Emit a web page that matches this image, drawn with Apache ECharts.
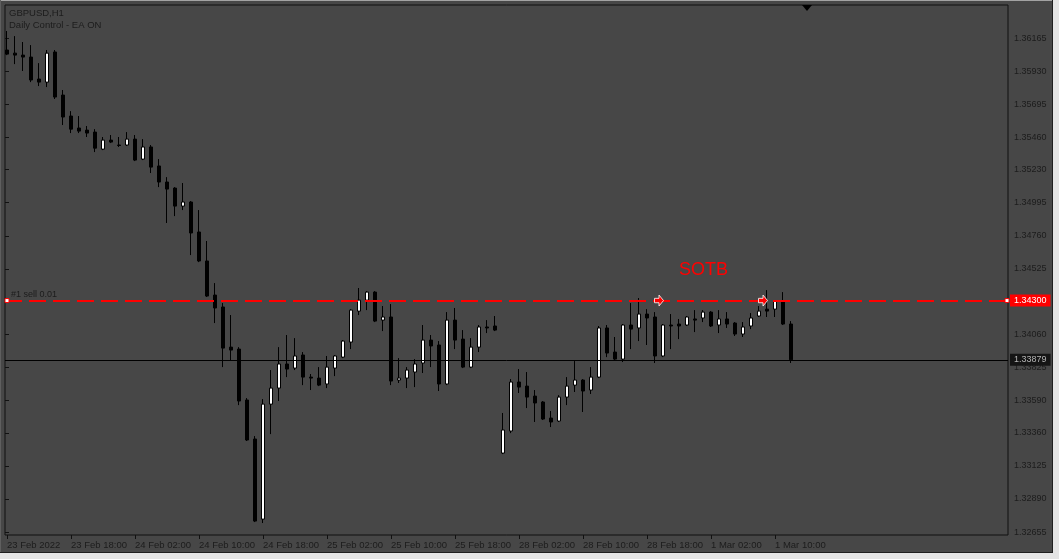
<!DOCTYPE html>
<html>
<head>
<meta charset="utf-8">
<title>GBPUSD,H1</title>
<script src="https://cdn.jsdelivr.net/npm/echarts@6/dist/echarts.min.js"></script>
<style>
html,body{margin:0;padding:0;background:#474747;}
#wrap{position:relative;width:1059px;height:559px;overflow:hidden;background:#474747;}
#chart{position:absolute;left:0;top:0;width:1059px;height:559px;}
.edge{position:absolute;}
</style>
</head>
<body>
<div id="wrap">
  <div id="chart"></div>
  <div class="edge" style="left:0;top:0;width:1059px;height:1px;background:#a3a3a3"></div>
  <div class="edge" style="left:0;top:0;width:1px;height:553px;background:#5f5f5f"></div>
  <div class="edge" style="left:1052px;top:0;width:1px;height:553px;background:#1e1e1e"></div>
  <div class="edge" style="left:1053px;top:0;width:6px;height:559px;background:#e4e4e4"></div>
  <div class="edge" style="left:0;top:552px;width:1053px;height:1px;background:#1e1e1e"></div>
  <div class="edge" style="left:0;top:553px;width:1059px;height:6px;background:#e4e4e4"></div>
</div>
<script>
// hourly bars, MT4 style: 23 Feb 10:00 .. 1 Mar 12:00 (weekend skipped)
const sessions = [['23 Feb',10,23],['24 Feb',0,23],['25 Feb',0,23],['28 Feb',0,23],['1 Mar',0,23],['2 Mar',0,15]];
const tickLabels = ['23 Feb 2022','23 Feb 18:00','24 Feb 02:00','24 Feb 10:00','24 Feb 18:00','25 Feb 02:00',
  '25 Feb 10:00','25 Feb 18:00','28 Feb 02:00','28 Feb 10:00','28 Feb 18:00','1 Mar 02:00','1 Mar 10:00'];
const yTicks = [1.36165,1.35930,1.35695,1.35460,1.35230,1.34995,1.34760,1.34525,1.34290,1.34060,
  1.33825,1.33590,1.33360,1.33125,1.32890,1.32655];

const opens = [
  1.36080,1.36058,1.36044,1.36030,1.35874,1.35852,1.36066,1.35760,1.35611,1.35526,
  1.35511,1.35497,1.35376,1.35440,1.35405,1.35405,1.35447,1.35305,1.35391,1.35256,
  1.35142,1.35099,1.34971,1.35000,1.34787,1.34581,1.34339,1.34254,1.33969,1.33955,
  1.33593,1.33316,1.32747,1.33564,1.33678,1.33849,1.33820,1.33913,1.33756,1.33749,
  1.33707,1.33820,1.33898,1.34005,1.34225,1.34303,1.34360,1.34161,1.34183,1.33735,
  1.33749,1.33792,1.33856,1.34019,1.33984,1.33707,1.34161,1.34026,1.33827,1.33969,
  1.34112,1.34119,
  1.33216,1.33373,1.33721,1.33692,1.33621,1.33579,1.33465,1.33444,
  1.33614,1.33699,1.33735,1.33664,1.33756,1.34105,1.33934,1.33884,1.34126,1.34105,
  1.34204,1.34183,1.33906,1.34126,1.34133,1.34126,1.34169,1.34176,1.34218,1.34126,
  1.34169,1.34140,1.34062,1.34119,1.34190,1.34239,1.34239,1.34296,1.34133];
const closes = [
  1.36051,1.36044,1.36030,1.35867,1.35852,1.36058,1.35746,1.35604,1.35518,1.35504,
  1.35490,1.35383,1.35440,1.35426,1.35402,1.35447,1.35298,1.35391,1.35248,1.35142,
  1.35092,1.34971,1.35000,1.34780,1.34581,1.34332,1.34247,1.33962,1.33948,1.33586,
  1.33309,1.32733,1.33564,1.33678,1.33849,1.33813,1.33906,1.33756,1.33749,1.33699,
  1.33827,1.33906,1.34012,1.34232,1.34303,1.34360,1.34154,1.34183,1.33728,1.33749,
  1.33806,1.33849,1.34019,1.33977,1.33707,1.34161,1.34019,1.33827,1.33969,1.34112,
  1.34105,1.34090,
  1.33380,1.33721,1.33685,1.33614,1.33572,1.33458,1.33437,1.33614,
  1.33692,1.33735,1.33657,1.33756,1.34105,1.33927,1.33884,1.34126,1.34097,1.34204,
  1.34176,1.33906,1.34126,1.34119,1.34119,1.34183,1.34161,1.34218,1.34119,1.34169,
  1.34133,1.34062,1.34112,1.34176,1.34225,1.34225,1.34296,1.34133,1.33879];
const lows = [
  1.36044,1.35980,1.35931,1.35852,1.35824,1.35817,1.35732,1.35547,1.35490,1.35490,
  1.35462,1.35355,1.35369,1.35419,1.35391,1.35398,1.35291,1.35298,1.35206,1.35106,
  1.34851,1.34900,1.34943,1.34623,1.34573,1.34325,1.34140,1.33827,1.33877,1.33557,
  1.33302,1.32726,1.32719,1.33351,1.33586,1.33756,1.33806,1.33699,1.33664,1.33692,
  1.33678,1.33763,1.33891,1.33955,1.34197,1.34232,1.34147,1.34083,1.33699,1.33714,
  1.33678,1.33685,1.33785,1.33827,1.33657,1.33699,1.33955,1.33820,1.33820,1.33934,
  1.34069,1.34083,
  1.33209,1.33358,1.33643,1.33536,1.33437,1.33451,1.33401,1.33437,
  1.33557,1.33650,1.33508,1.33636,1.33749,1.33898,1.33877,1.33863,1.33955,1.34012,
  1.33984,1.33856,1.33898,1.33955,1.34026,1.34119,1.34076,1.34147,1.34112,1.34069,
  1.34105,1.34048,1.34041,1.34097,1.34183,1.34183,1.34183,1.34126,1.33856];
const highs = [
  1.36215,1.36179,1.36137,1.36115,1.35987,1.36080,1.36080,1.35796,1.35646,1.35611,
  1.35540,1.35518,1.35462,1.35476,1.35462,1.35497,1.35476,1.35447,1.35405,1.35305,
  1.35177,1.35106,1.35135,1.35007,1.34943,1.34723,1.34424,1.34282,1.34197,1.33969,
  1.33607,1.33337,1.33600,1.33806,1.33969,1.34055,1.34033,1.33934,1.33778,1.33827,
  1.33906,1.33913,1.34019,1.34239,1.34389,1.34367,1.34367,1.34261,1.34275,1.33891,
  1.33827,1.33884,1.34126,1.34055,1.34012,1.34218,1.34247,1.34090,1.34033,1.34126,
  1.34161,1.34190,
  1.33501,1.33742,1.33813,1.33792,1.33664,1.33586,1.33515,1.33628,
  1.33756,1.33870,1.33742,1.33827,1.34119,1.34126,1.34041,1.34133,1.34282,1.34318,
  1.34239,1.34218,1.34133,1.34204,1.34169,1.34190,1.34232,1.34232,1.34225,1.34232,
  1.34218,1.34147,1.34147,1.34211,1.34261,1.34374,1.34303,1.34360,1.34154];

const orderPrice = 1.34300;
const bidPrice = 1.33879;
const sotbPrice = 1.34520;
const arrowBars = [81, 94];
const yMin = 1.32634, yMax = 1.36400;

const categories = [];
sessions.forEach(function (s) {
  for (let h = s[1]; h <= s[2]; h++) categories.push(s[0] + ' ' + (h < 10 ? '0' : '') + h + ':00');
});
const candles = opens.map(function (o, i) { return [o, closes[i], lows[i], highs[i]]; });

const font = 'Liberation Sans, Arial, sans-serif';
const txt = '#1c1c1c';
const arrowPath = 'path://M0,3L5,3L5,0L10,5L5,10L5,7L0,7Z';

const marks = [
  {coord: [categories[0], orderPrice], symbol: 'rect', symbolSize: 4,
    itemStyle: {color: '#fff', borderColor: '#ff0000', borderWidth: 1}},
  {coord: [categories[categories.length - 1], orderPrice], symbol: 'rect', symbolSize: 4,
    itemStyle: {color: '#fff', borderColor: '#ff0000', borderWidth: 1}},
  {coord: [categories[84], sotbPrice], symbol: 'rect', symbolSize: 0,
    label: {show: true, formatter: 'SOTB', position: 'right', distance: 0, color: '#ff0000', fontSize: 18, fontFamily: font}}
];
arrowBars.forEach(function (i) {
  marks.push({coord: [categories[i], orderPrice], symbol: arrowPath, symbolSize: [9, 11], symbolOffset: [4, 0],
    itemStyle: {color: '#ff0000', borderColor: '#ffffff', borderWidth: 0.8}});
});

// full-width horizontal line across grid 1 (x axis 0..1)
function hLine(price, lineStyle, label) {
  return [
    {coord: [0, price], lineStyle: lineStyle, label: label},
    {coord: [1, price]}
  ];
}

const chart = echarts.init(document.getElementById('chart'), null, {renderer: 'canvas'});
chart.setOption({
  animation: false,
  backgroundColor: '#474747',
  title: {
    text: 'GBPUSD,H1', subtext: 'Daily Control - EA ON',
    left: 9, top: 8, padding: 0, itemGap: 2,
    textStyle: {fontSize: 9.5, fontWeight: 'normal', color: txt, fontFamily: font},
    subtextStyle: {fontSize: 9.5, color: txt, fontFamily: font}
  },
  grid: [
    {left: 3, top: 5, width: 1008, height: 530},
    {left: 5, top: 5, width: 1003, height: 530, show: true, borderColor: '#111', borderWidth: 1, backgroundColor: 'transparent'}
  ],
  xAxis: [
    {
      gridIndex: 0, type: 'category', data: categories, boundaryGap: true,
      axisLine: {show: false},
      axisTick: {show: true, alignWithLabel: true, length: 4, lineStyle: {color: '#111'},
        interval: function (i) { return i % 8 === 0 && i <= 96; }},
      axisLabel: {
        interval: function (i) { return i % 8 === 0 && i <= 96; },
        formatter: function (v, i) { return tickLabels[i / 8]; },
        align: 'left', margin: 5, color: txt, fontSize: 9.5, fontFamily: font
      },
      splitLine: {show: false}
    },
    {gridIndex: 1, type: 'value', min: 0, max: 1, show: false}
  ],
  yAxis: [
    {gridIndex: 0, type: 'value', min: yMin, max: yMax, show: false},
    {
      gridIndex: 1, type: 'value', position: 'right', min: yMin, max: yMax,
      splitLine: {show: false}, axisLine: {show: false},
      axisTick: {show: true, length: 4, customValues: yTicks, lineStyle: {color: '#111'}},
      axisLabel: {customValues: yTicks, formatter: function (v) { return v.toFixed(5); },
        margin: 6, color: txt, fontSize: 9, fontFamily: font}
    }
  ],
  graphic: [
    {type: 'polygon', shape: {points: [[802, 5], [812, 5], [807, 11]]}, style: {fill: '#000'}, z: 100}
  ],
  series: [
    {
      type: 'candlestick', xAxisIndex: 0, yAxisIndex: 0, data: candles, barWidth: 4,
      itemStyle: {color: '#ffffff', color0: '#000000', borderColor: '#000000', borderColor0: '#000000', borderWidth: 1}
    },
    {
      type: 'line', xAxisIndex: 1, yAxisIndex: 1, data: [], clip: false, silent: true,
      markLine: {
        symbol: 'none', silent: true, animation: false,
        data: [
          hLine(bidPrice, {color: '#000000', type: 'solid', width: 1},
            {show: true, position: 'end', distance: 2, formatter: bidPrice.toFixed(5),
              backgroundColor: '#151515', color: '#b4b4b4', padding: [2, 4, 1, 4], fontSize: 9, fontFamily: font}),
          hLine(orderPrice, {color: 'rgba(0,0,0,0)', type: 'solid', width: 1},
            {show: true, position: 'insideStartTop', distance: [6, 2], formatter: '#1 sell 0.01',
              color: txt, fontSize: 9, fontFamily: font}),
          hLine(orderPrice, {color: '#ff0000', type: [17, 7], width: 2},
            {show: true, position: 'end', distance: 2, formatter: orderPrice.toFixed(5),
              backgroundColor: '#ff0000', color: '#ffffff', padding: [2, 4, 1, 4], fontSize: 9, fontFamily: font})
        ]
      }
    },
    {
      type: 'line', xAxisIndex: 0, yAxisIndex: 0, data: [], silent: true,
      markPoint: {silent: true, animation: false, data: marks}
    }
  ]
});
</script>
</body>
</html>
